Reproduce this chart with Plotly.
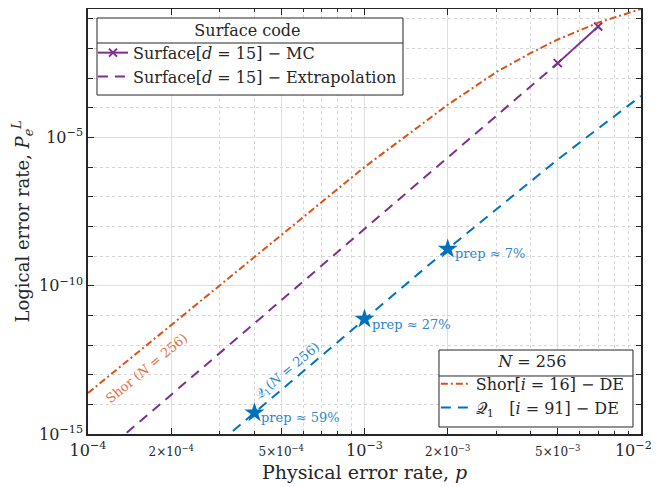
import plotly.graph_objects as go
import numpy as np

# ---------------- data ----------------
p_shor = [1e-4, 2e-4, 5e-4, 1e-3, 2e-3, 3e-3, 4e-3, 5e-3, 7e-3, 1e-2]
P_shor = [2.4e-14, 4.7e-12, 5.2e-9, 1.0e-6, 1.26e-4, 1.6e-3, 7.1e-3, 2.0e-2, 7.4e-2, 0.214]

p_surf_ext = [1e-4, 2e-4, 5e-4, 1e-3, 2e-3, 3e-3, 4e-3, 5e-3]
P_surf_ext = [8.3e-17, 2.1e-14, 3.2e-11, 8.3e-9, 2.1e-6, 5.5e-5, 5.4e-4, 3.2e-3]

p_surf_mc = [5e-3, 7e-3]
P_surf_mc = [3.2e-3, 5.5e-2]

p_q1 = [3e-4, 4e-4, 1e-3, 2e-3, 3e-3, 5e-3, 7e-3, 1e-2]
P_q1 = [5.4e-16, 5.2e-15, 7.5e-12, 1.74e-9, 3.8e-8, 1.8e-6, 2.0e-5, 2.5e-4]

p_stars = [4e-4, 1e-3, 2e-3]
P_stars = [5.2e-15, 7.5e-12, 1.74e-9]
star_labels = ["prep ≈ 59%", "prep ≈ 27%", "prep ≈ 7%"]

SMALL = "<span style='font-size:12px'>{}</span>"
x_major = [1e-4, 2e-4, 5e-4, 1e-3, 2e-3, 5e-3, 1e-2]
x_major_text = ["10<sup>−4</sup>",
                SMALL.format("2×10<sup>−4</sup>"),
                SMALL.format("5×10<sup>−4</sup>"),
                "10<sup>−3</sup>",
                SMALL.format("2×10<sup>−3</sup>"),
                SMALL.format("5×10<sup>−3</sup>"),
                "10<sup>−2</sup>&nbsp;&nbsp;&nbsp;"]
x_minor = [3e-4, 4e-4, 6e-4, 7e-4, 8e-4, 9e-4, 3e-3, 4e-3, 6e-3, 7e-3, 8e-3, 9e-3]
y_major = [1e-15, 1e-10, 1e-5]
y_major_text = ["10<sup>−15</sup>", "10<sup>−10</sup>", "10<sup>−5</sup>"]
y_minor = [10.0 ** k for k in range(-15, 0)]

ORANGE = "#D95319"
PURPLE = "#7E2F8E"
BLUE = "#0072BD"
FONT = "DejaVu Serif"
INK = "#262626"

fig = go.Figure()

fig.add_trace(go.Scatter(x=p_surf_mc, y=P_surf_mc, mode="lines+markers",
                         name="Surface[<i>d</i> = 15] − MC",
                         line=dict(color=PURPLE, width=2),
                         marker=dict(symbol="x-thin", size=8, line=dict(color=PURPLE, width=2)),
                         legend="legend"))
fig.add_trace(go.Scatter(x=p_surf_ext, y=P_surf_ext, mode="lines",
                         name="Surface[<i>d</i> = 15] − Extrapolation",
                         line=dict(color=PURPLE, width=2, dash="10px,7px"),
                         legend="legend"))
fig.add_trace(go.Scatter(x=p_shor, y=P_shor, mode="lines",
                         name="Shor[<i>i</i> = 16] − DE",
                         line=dict(color=ORANGE, width=2, dash="7px,3px,2px,3px"),
                         legend="legend2"))
fig.add_trace(go.Scatter(x=p_q1, y=P_q1, mode="lines",
                         name="𝒬<sub>1</sub>   [<i>i</i> = 91] − DE",
                         line=dict(color=BLUE, width=2, dash="10px,7px"),
                         legend="legend2"))
fig.add_trace(go.Scatter(x=p_stars, y=P_stars, mode="markers", showlegend=False,
                         marker=dict(symbol="star", size=15, color=BLUE)))

for xv, yv, t in zip(p_stars, P_stars, star_labels):
    fig.add_annotation(x=np.log10(xv), y=np.log10(yv), text=t, showarrow=False,
                       xanchor="left", yanchor="middle", xshift=5, yshift=-5,
                       font=dict(family=FONT, size=13, color="#2F86CC"))

fig.add_annotation(x=-3.79, y=-12.78, text="Shor (<i>N</i> = 256)", showarrow=False,
                   textangle=-39.5, font=dict(family=FONT, size=13, color="#E2703F"))
fig.add_annotation(x=-3.28, y=-12.88, text="𝒬<sub>1</sub>(<i>N</i> = 256)", showarrow=False,
                   textangle=-40, font=dict(family=FONT, size=13, color="#2F86CC"))

# axis titles
fig.add_annotation(xref="paper", yref="paper", x=0.5, y=-0.09, yanchor="middle",
                   text="Physical error rate, <i>p</i>", showarrow=False,
                   font=dict(family=FONT, size=19, color=INK))
fig.add_annotation(xref="paper", yref="paper", x=-0.1194, y=0.5, xanchor="center",
                   yanchor="middle", textangle=-90,
                   text="Logical error rate, <i>P</i><sub><i>e</i></sub><sup><i>L</i></sup>",
                   showarrow=False, font=dict(family=FONT, size=18, color=INK))

axis_common = dict(showline=True, linecolor=INK, linewidth=1.5, mirror="allticks",
                   ticks="inside", ticklen=6, tickcolor=INK, tickwidth=1,
                   showgrid=True, gridcolor="#DEDEDE", gridwidth=1, zeroline=False,
                   automargin=False, ticklabeloverflow="allow",
                   tickfont=dict(family=FONT, size=16, color=INK))

fig.update_xaxes(type="log", range=[-4, -2], tickmode="array", tickvals=x_major,
                 ticktext=x_major_text, ticklabelstandoff=1,
                 minor=dict(tickmode="array", tickvals=x_minor, ticks="inside", ticklen=3,
                            tickcolor=INK, showgrid=True, gridcolor="#D6D6D6",
                            griddash="dot", gridwidth=1),
                 **axis_common)
fig.update_yaxes(type="log", range=[-15, -0.67], tickmode="array", tickvals=y_major,
                 ticktext=y_major_text,
                 minor=dict(tickmode="array", tickvals=y_minor, ticks="inside", ticklen=5,
                            tickcolor=INK, showgrid=True, gridcolor="#D6D6D6",
                            griddash="dot", gridwidth=1),
                 **axis_common)

legend_common = dict(bgcolor="rgba(0,0,0,0)", borderwidth=0,
                     font=dict(family=FONT, size=16, color=INK),
                     tracegroupgap=0, itemwidth=30, xanchor="left", yanchor="top")

# the page adds an 8px body margin, so the figure is 8px smaller than the window
fig.update_layout(
    width=653, height=479,
    margin=dict(l=80, r=20, t=1, b=53),
    plot_bgcolor="white", paper_bgcolor="white",
    legend=dict(x=0.009, y=0.986,
                title=dict(text="Surface code", side="top center",
                           font=dict(family=FONT, size=16, color=INK)),
                **legend_common),
    legend2=dict(x=0.629, y=0.207,
                 title=dict(text="<i>N</i> = 256", side="top center",
                            font=dict(family=FONT, size=16, color=INK)),
                 **legend_common),
)

# legend frames and separators under the legend titles
for (x0, x1, y0, y1, ys) in [(0.0163, 0.5696, 0.7976, 0.9788, 0.92),
                             (0.6347, 0.9855, 0.0165, 0.1976, 0.1365)]:
    fig.add_shape(type="rect", xref="paper", yref="paper", x0=x0, x1=x1, y0=y0, y1=y1,
                  fillcolor="white", line=dict(color=INK, width=1), layer="above")
    fig.add_shape(type="line", xref="paper", yref="paper", x0=x0, x1=x1, y0=ys, y1=ys,
                  line=dict(color=INK, width=1), layer="above")

fig.write_html("out.html")
